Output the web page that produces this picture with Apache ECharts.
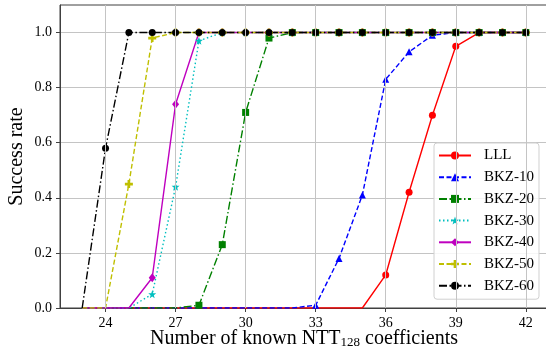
<!DOCTYPE html>
<html>
<head>
<meta charset="utf-8">
<script src="https://cdn.jsdelivr.net/npm/echarts@6/dist/echarts.min.js"></script>
<style>
  html, body { margin: 0; padding: 0; background: #fff; }
  #chart { width: 546px; height: 349px; }
</style>
</head>
<body>
<div id="chart"></div>
<script>
// known NTT coefficients (x) and success rates per reduction
var coeffs = [23, 24, 25, 26, 27, 28, 29, 30, 31, 32, 33, 34, 35, 36, 37, 38, 39, 40, 41, 42];
var lll   = [0, 0, 0, 0, 0, 0, 0, 0, 0, 0, 0, 0, 0, 0.12, 0.42, 0.70, 0.95, 1, 1, 1];
var bkz10 = [0, 0, 0, 0, 0, 0, 0, 0, 0, 0, 0.01, 0.18, 0.41, 0.83, 0.93, 0.99, 1, 1, 1, 1];
var bkz20 = [0, 0, 0, 0, 0, 0.01, 0.23, 0.71, 0.98, 1, 1, 1, 1, 1, 1, 1, 1, 1, 1, 1];
var bkz30 = [0, 0, 0, 0.05, 0.44, 0.97, 1, 1, 1, 1, 1, 1, 1, 1, 1, 1, 1, 1, 1, 1];
var bkz40 = [0, 0, 0, 0.11, 0.74, 1, 1, 1, 1, 1, 1, 1, 1, 1, 1, 1, 1, 1, 1, 1];
var bkz50 = [0, 0, 0.45, 0.98, 1, 1, 1, 1, 1, 1, 1, 1, 1, 1, 1, 1, 1, 1, 1, 1];
var bkz60 = [0, 0.58, 1, 1, 1, 1, 1, 1, 1, 1, 1, 1, 1, 1, 1, 1, 1, 1, 1, 1];
var xTicks = [24, 27, 30, 33, 36, 39, 42];
var yTicks = [0, 0.2, 0.4, 0.6, 0.8, 1.0];

var serif = '"Liberation Serif", "DejaVu Serif", serif';
var starPath = 'path://M0,-10 L2.35,-3.24 L9.51,-3.09 L3.8,1.24 L5.88,8.09 L0,4 L-5.88,8.09 L-3.8,1.24 L-9.51,-3.09 L-2.35,-3.24 Z';
var plusPath = 'path://M-1,-3 L1,-3 L1,-1 L3,-1 L3,1 L1,1 L1,3 L-1,3 L-1,1 L-3,1 L-3,-1 L-1,-1 Z';
var diamondPath = 'path://M0,-4 L3,0 L0,4 L-3,0 Z';

function pts(vals) {
  return coeffs.map(function (x, i) {
    var p = { value: [x, vals[i]] };
    if (vals[i] === 0) p.symbol = 'none';
    return p;
  });
}

function mk(name, vals, color, dash, symbol, size) {
  return {
    name: name,
    type: 'line',
    data: pts(vals),
    symbol: symbol,
    symbolSize: size,
    showAllSymbol: true,
    itemStyle: { color: color },
    lineStyle: { color: color, width: 1.4, type: dash },
    emphasis: { disabled: true },
    animation: false
  };
}

var chart = echarts.init(document.getElementById('chart'), null, { renderer: 'canvas' });

var series = [
  {
    // vertical grid lines at the x ticks
    type: 'line',
    data: [],
    z: 1,
    silent: true,
    markLine: {
      silent: true,
      symbol: ['none', 'none'],
      label: { show: false },
      lineStyle: { color: '#c4c4c4', width: 1, type: 'solid' },
      data: xTicks.map(function (v) { return { xAxis: v }; }),
      animation: false
    }
  },
  mk('LLL', lll, '#ff0000', 'solid', 'circle', 7),
  mk('BKZ-10', bkz10, '#0000ff', [5, 2.5], 'triangle', 7),
  mk('BKZ-20', bkz20, '#008000', [8, 2.5, 1.5, 2.5], 'rect', 7),
  mk('BKZ-30', bkz30, '#00bfbf', [1.5, 2.5], starPath, 8),
  mk('BKZ-40', bkz40, '#bf00bf', 'solid', diamondPath, [7, 9]),
  mk('BKZ-50', bkz50, '#bfbf00', [5, 2.5], plusPath, 8),
  mk('BKZ-60', bkz60, '#000000', [8, 2.5, 1.5, 2.5], 'circle', 7)
];

var option = {
  backgroundColor: '#fff',
  animation: false,
  grid: {
    left: 60, right: -2, top: 5, bottom: 41,
    outerBoundsMode: 'none',
    containLabel: false,
    show: true, borderColor: '#404040', borderWidth: 1, backgroundColor: 'transparent'
  },
  legend: {
    orient: 'vertical',
    left: 434, top: 143,
    data: ['LLL', 'BKZ-10', 'BKZ-20', 'BKZ-30', 'BKZ-40', 'BKZ-50', 'BKZ-60'],
    itemWidth: 32, itemHeight: 10, itemGap: 6.7,
    padding: [5, 5, 6, 4],
    backgroundColor: 'rgba(255,255,255,0.85)',
    borderColor: '#d0d0d0', borderWidth: 1, borderRadius: 3,
    textStyle: { fontFamily: serif, fontSize: 15, color: '#000', padding: [0, 0, 0, 8] }
  },
  xAxis: {
    type: 'value',
    min: 22.05, max: 42.95,
    name: 'Number of known NTT{sub|128} coefficients',
    nameLocation: 'middle',
    nameGap: 20,
    nameMoveOverlap: false,
    nameTextStyle: {
      fontFamily: serif, fontSize: 20, color: '#000',
      rich: { sub: { fontFamily: serif, fontSize: 13, color: '#000', padding: [8, 0, 0, 0] } }
    },
    axisLine: { show: true, lineStyle: { color: '#404040', width: 1 } },
    axisTick: { show: true, length: 4, customValues: xTicks, lineStyle: { color: '#404040' } },
    axisLabel: { customValues: xTicks, margin: 8, fontFamily: serif, fontSize: 14, color: '#000' },
    splitLine: { show: false }
  },
  yAxis: {
    type: 'value',
    min: 0, max: 1.1, interval: 0.2,
    name: 'Success rate',
    nameLocation: 'middle',
    nameGap: 33,
    nameMoveOverlap: false,
    nameTextStyle: { fontFamily: serif, fontSize: 20, color: '#000' },
    axisLine: { show: true, lineStyle: { color: '#404040', width: 1 } },
    axisTick: { show: true, length: 4, customValues: yTicks, lineStyle: { color: '#404040' } },
    axisLabel: {
      customValues: yTicks, margin: 8, fontFamily: serif, fontSize: 14, color: '#000',
      formatter: function (v) { return v.toFixed(1); }
    },
    splitLine: { show: true, lineStyle: { color: '#c4c4c4', width: 1 } }
  },
  series: series
};

chart.setOption(option);
</script>
</body>
</html>
